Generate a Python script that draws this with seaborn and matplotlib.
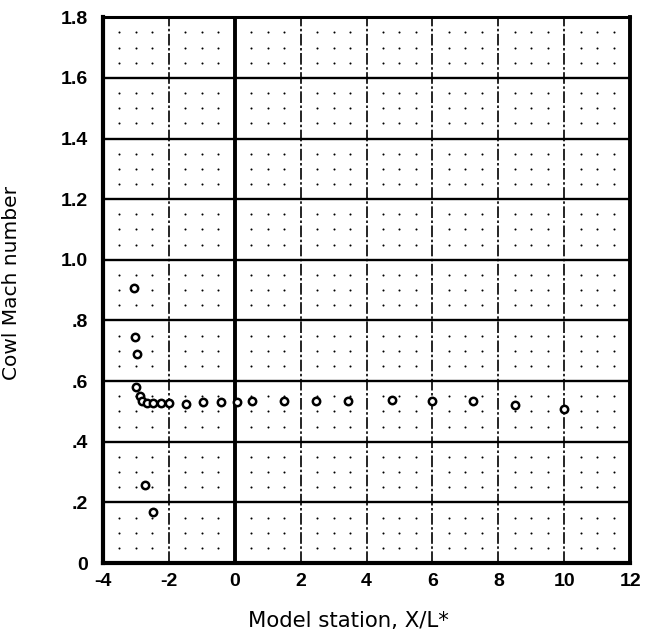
import numpy as np
import pandas as pd
import matplotlib
matplotlib.use("Agg")
import matplotlib.pyplot as plt
import seaborn as sns

# Cowl Mach number measurements along the model
station = [-3.05, -3.03, -2.97, -2.98, -2.88, -2.80, -2.67, -2.48, -2.25, -1.98,
           -1.48, -0.95, -0.42, 0.07, 0.53, 1.50, 2.48, 3.45, 4.76, 6.00,
           7.24, 8.50, 9.98, -2.73, -2.48]
mach = [0.906, 0.746, 0.688, 0.582, 0.552, 0.536, 0.528, 0.527, 0.527, 0.527,
        0.525, 0.530, 0.530, 0.530, 0.534, 0.534, 0.536, 0.536, 0.538, 0.536,
        0.533, 0.522, 0.508, 0.257, 0.168]

x_ticks = [-4, -2, 0, 2, 4, 6, 8, 10, 12]
x_tick_labels = ["-4", "-2", "0", "2", "4", "6", "8", "10", "12"]
y_ticks = [0, 0.2, 0.4, 0.6, 0.8, 1.0, 1.2, 1.4, 1.6, 1.8]
y_tick_labels = ["0", ".2", ".4", ".6", ".8", "1.0", "1.2", "1.4", "1.6", "1.8"]

df = pd.DataFrame({"station": station, "mach": mach})

sns.set_style("white")
plt.rcParams["font.family"] = ["Liberation Sans", "DejaVu Sans"]
plt.rcParams["text.color"] = "black"
plt.rcParams["axes.labelcolor"] = "black"
plt.rcParams["xtick.color"] = "black"
plt.rcParams["ytick.color"] = "black"

fig = plt.figure(figsize=(6.47, 6.37), dpi=100)
ax = fig.add_axes([0.159, 0.116, 0.815, 0.857])
ax.set_xlim(-4, 12)
ax.set_ylim(0, 1.8)

# dotted background grid at every 0.5 in X and 0.05 in Mach
gx = np.arange(-4, 12.01, 0.5)
gy = np.arange(0, 1.801, 0.05)
GX, GY = np.meshgrid(gx, gy)
mask = (np.abs(GX / 2 - np.round(GX / 2)) > 1e-6) & (np.abs(GY / 0.2 - np.round(GY / 0.2)) > 1e-6)
ax.scatter(GX[mask], GY[mask], s=2.2, color="black", linewidths=0, zorder=1)

# main grid lines
for yv in y_ticks[1:-1]:
    ax.axhline(yv, color="black", lw=1.7, zorder=2)
for xv in x_ticks[1:-1]:
    if xv == 0:
        ax.axvline(xv, color="black", lw=2.8, zorder=2)
    else:
        ax.axvline(xv, color="black", lw=1.2, ls=(0, (7, 1.5, 1.5, 1.5)), zorder=2)

sns.scatterplot(data=df, x="station", y="mach", ax=ax, marker="o", s=28,
                facecolor="white", edgecolor="black", linewidth=1.8, zorder=4)

for side in ["left", "bottom", "right", "top"]:
    ax.spines[side].set_visible(True)
    ax.spines[side].set_color("black")
ax.spines["left"].set_linewidth(3.0)
ax.spines["bottom"].set_linewidth(3.0)
ax.spines["right"].set_linewidth(2.8)
ax.spines["top"].set_linewidth(2.2)

ax.set_xticks(x_ticks)
ax.set_xticklabels(x_tick_labels, fontsize=14, fontweight="bold", color="black")
ax.set_yticks(y_ticks)
ax.set_yticklabels(y_tick_labels, fontsize=14, fontweight="bold", color="black")
ax.tick_params(axis="both", length=0)
ax.tick_params(axis="y", pad=11)
ax.tick_params(axis="x", pad=7)

ax.set_xlabel("Model station, X/L*", fontsize=15.3, family="DejaVu Sans", color="black")
ax.set_ylabel("Cowl Mach number", fontsize=14.5, family="DejaVu Sans", color="black")
ax.xaxis.set_label_coords(0.465, -0.088)
ax.yaxis.set_label_coords(-0.155, 0.513)

fig.savefig("out.png", dpi=100)
